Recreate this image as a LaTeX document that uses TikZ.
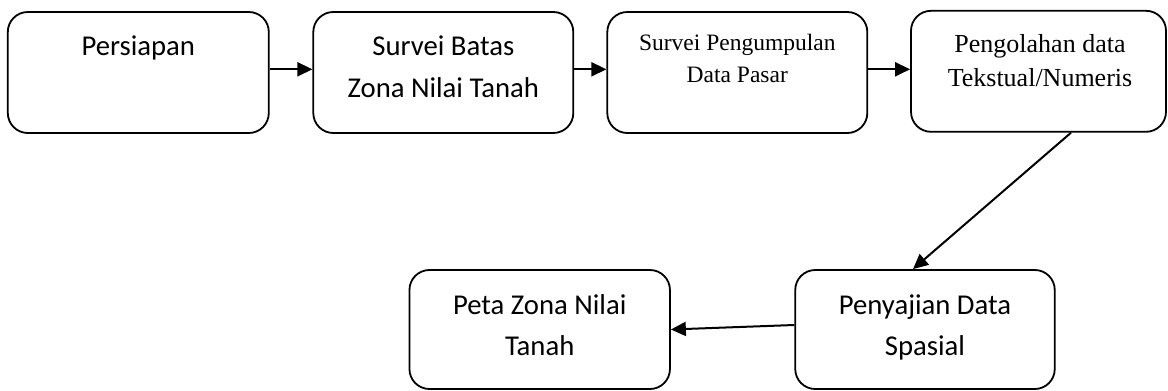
\documentclass[tikz,border=0pt]{standalone}
\usepackage{fontspec}
\setmainfont{Carlito}
\newfontfamily\tnr{Liberation Serif}
\usetikzlibrary{arrows.meta}
\begin{document}
\begin{tikzpicture}[x=1pt,y=-1pt,
  boxstyle/.style={draw,line width=1.8pt,rounded corners=20pt,inner sep=0pt},
  sanstext/.style={anchor=base,inner sep=0pt,font=\fontsize{28.7}{34}\selectfont},
  serifA/.style={anchor=base,inner sep=0pt,font=\tnr\fontsize{23.5}{28}\selectfont},
  serifB/.style={anchor=base,inner sep=0pt,font=\tnr\fontsize{26}{31}\selectfont},
  conn/.style={line width=2pt,-{Triangle[length=15pt,width=14pt]}}]
\useasboundingbox (0,0) rectangle (1168,391);
% boxes
\node[boxstyle,minimum width=261pt,minimum height=121pt] (b1) at (138.3,72.5) {};
\node[boxstyle,minimum width=260pt,minimum height=121pt] (b2) at (443.3,72.5) {};
\node[boxstyle,minimum width=260pt,minimum height=121pt] (b3) at (737.3,72.5) {};
\node[boxstyle,minimum width=255pt,minimum height=121pt] (b4) at (1038.5,71.3) {};
\node[boxstyle,minimum width=260.5pt,minimum height=119pt] (b5) at (539.7,329.5) {};
\node[boxstyle,minimum width=259.5pt,minimum height=119pt] (b6) at (925,329.5) {};
% texts
\node[sanstext] (t1) at (138.3,55) {Persiapan};
\node[sanstext] (t2a) at (443.3,55) {Survei Batas};
\node[sanstext] (t2b) at (443.3,97) {Zona Nilai Tanah};
\node[serifA] (t3a) at (737.3,50) {Survei Pengumpulan};
\node[serifA] (t3b) at (737.3,82) {Data Pasar};
\node[serifB] (t4a) at (1040,52) {Pengolahan data};
\node[serifB] (t4b) at (1040,86) {Tekstual/Numeris};
\node[sanstext] (t5a) at (539.7,314) {Peta Zona Nilai};
\node[sanstext] (t5b) at (539.7,355) {Tanah};
\node[sanstext] (t6a) at (925,314) {Penyajian Data};
\node[sanstext] (t6b) at (925,355) {Spasial};
% connectors
\draw[conn] ([yshift=3.2pt]b1.east) -- ([yshift=3.2pt]b2.west);
\draw[conn] ([yshift=3.2pt]b2.east) -- ([yshift=3.2pt]b3.west);
\draw[conn] ([yshift=3.2pt]b3.east) -- ([yshift=2pt]b4.west);
\draw[conn] ([xshift=32.5pt]b4.south) -- ([xshift=-12pt]b6.north);
\draw[conn] ([yshift=4.5pt]b6.west) -- (b5.east);
\end{tikzpicture}
\end{document}
